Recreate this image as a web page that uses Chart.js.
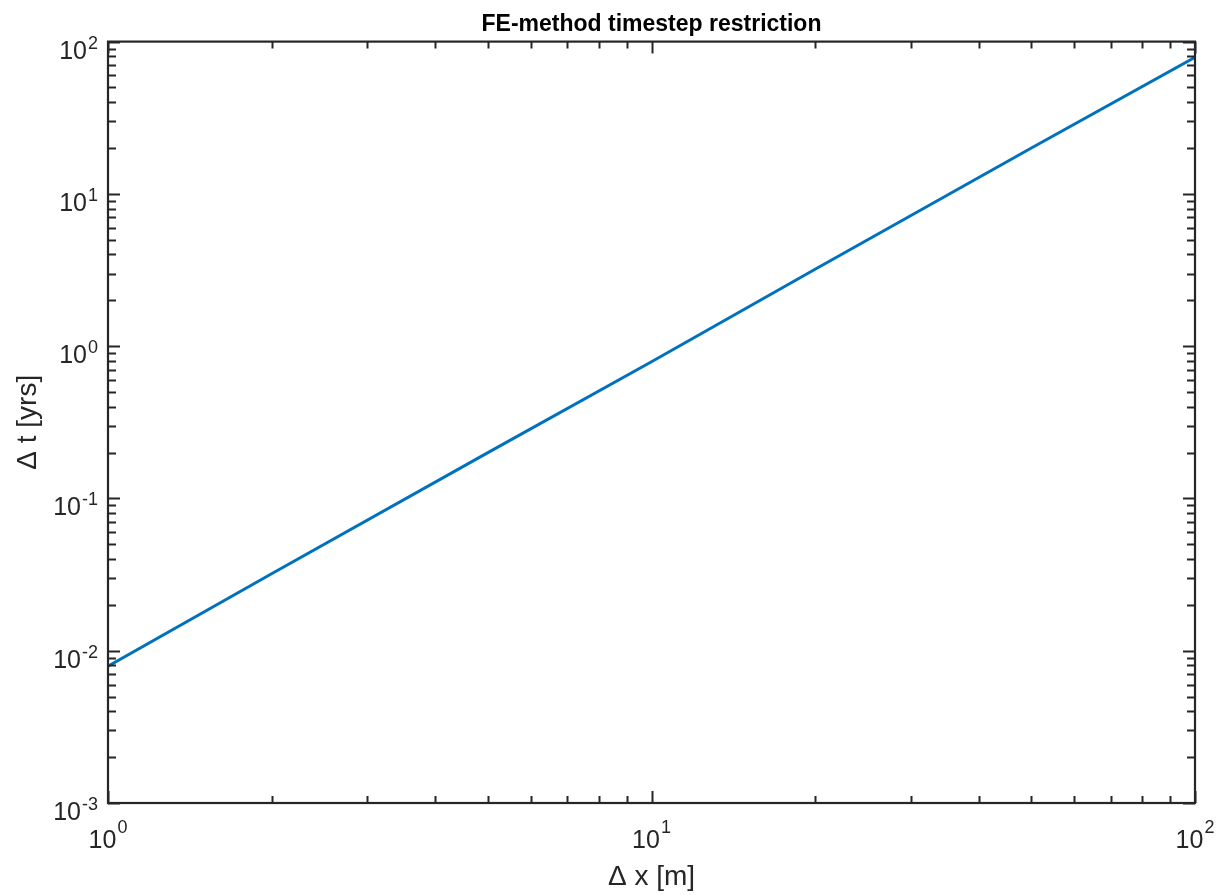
<!DOCTYPE html>
<html>
<head>
<meta charset="utf-8">
<script src="https://cdn.jsdelivr.net/npm/chart.js@4.4.1/dist/chart.umd.min.js"></script>
<style>
  html, body { margin: 0; padding: 0; background: #fff; }
  #wrap { width: 1222px; height: 895px; }
</style>
</head>
<body>
<div id="wrap"><canvas id="dtChart" width="1222" height="895"></canvas></div>
<script>
// grid spacing [m] vs. largest stable timestep [yrs]
const dx = [1, 2, 5, 10, 20, 50, 100];
const dt = [0.0079, 0.032, 0.2, 0.79, 3.2, 20, 79];

// decade ticks and their exponents
const xDecades = [1, 10, 100];
const xExponents = ['0', '1', '2'];
const yDecades = [0.001, 0.01, 0.1, 1, 10, 100];
const yExponents = ['-3', '-2', '-1', '0', '1', '2'];

const axisColor = '#262626';
const fontFamily = '"Liberation Sans", Arial, Helvetica, sans-serif';

// writes "10" with a raised exponent, left edge at x
function drawPower(ctx, exp, left, baseY, supY) {
    ctx.font = '25px ' + fontFamily;
    const wb = ctx.measureText('10').width;
    ctx.fillText('10', left, baseY);
    ctx.font = '18px ' + fontFamily;
    ctx.fillText(exp, left + wb + 1, supY);
}

function powerWidth(ctx, exp) {
    ctx.font = '25px ' + fontFamily;
    const wb = ctx.measureText('10').width;
    ctx.font = '18px ' + fontFamily;
    return wb + 1 + ctx.measureText(exp).width;
}

// box axes with inward ticks on all four sides, plus labels
const matlabAxes = {
    id: 'matlabAxes',
    afterDraw(chart) {
        const ctx = chart.ctx;
        const a = chart.chartArea;
        const x = chart.scales.x;
        const y = chart.scales.y;
        ctx.save();
        ctx.strokeStyle = axisColor;
        ctx.fillStyle = axisColor;
        ctx.lineWidth = 2;
        ctx.lineCap = 'butt';

        ctx.beginPath();
        const tickX = (v, len) => {
            const px = Math.round(x.getPixelForValue(v)) + 0.5;
            ctx.moveTo(px, a.bottom); ctx.lineTo(px, a.bottom - len);
            ctx.moveTo(px, a.top); ctx.lineTo(px, a.top + len);
        };
        const tickY = (v, len) => {
            const py = Math.round(y.getPixelForValue(v)) + 0.5;
            ctx.moveTo(a.left, py); ctx.lineTo(a.left + len, py);
            ctx.moveTo(a.right, py); ctx.lineTo(a.right - len, py);
        };
        xDecades.forEach((d, i) => {
            tickX(d, 12);
            if (i < xDecades.length - 1) {
                for (let k = 2; k <= 9; k++) tickX(d * k, 7);
            }
        });
        yDecades.forEach((d, i) => {
            tickY(d, 12);
            if (i < yDecades.length - 1) {
                for (let k = 2; k <= 9; k++) tickY(d * k, 8);
            }
        });
        ctx.stroke();

        ctx.lineWidth = 2.2;
        ctx.strokeRect(a.left, a.top, a.right - a.left, a.bottom - a.top);

        // tick labels
        ctx.textAlign = 'left';
        ctx.textBaseline = 'alphabetic';
        xDecades.forEach((d, i) => {
            const px = x.getPixelForValue(d);
            const w = powerWidth(ctx, xExponents[i]);
            drawPower(ctx, xExponents[i], px - w / 2, a.bottom + 45, a.bottom + 30);
        });
        yDecades.forEach((d, i) => {
            const py = y.getPixelForValue(d);
            const w = powerWidth(ctx, yExponents[i]);
            drawPower(ctx, yExponents[i], a.left - 10 - w, py + 17, py + 7);
        });

        // axis titles
        ctx.font = '28px ' + fontFamily;
        ctx.textAlign = 'center';
        ctx.fillText('\u0394 x [m]', (a.left + a.right) / 2, a.bottom + 82);
        ctx.translate(36, (a.top + a.bottom) / 2);
        ctx.rotate(-Math.PI / 2);
        ctx.fillText('\u0394 t [yrs]', 0, 0);
        ctx.restore();
    }
};

new Chart(document.getElementById('dtChart'), {
    type: 'line',
    data: {
        datasets: [{
            data: dx.map((v, i) => ({ x: v, y: dt[i] })),
            borderColor: '#0072BD',
            borderWidth: 3,
            pointRadius: 0,
            tension: 0,
            fill: false
        }]
    },
    options: {
        responsive: false,
        animation: false,
        devicePixelRatio: 1,
        layout: { padding: { top: 0, left: 108, right: 27, bottom: 92 } },
        plugins: {
            legend: { display: false },
            tooltip: { enabled: false },
            title: {
                display: true,
                text: 'FE-method timestep restriction',
                color: '#000',
                font: { family: fontFamily, size: 23, weight: 'bold' },
                padding: { top: 11, bottom: 3 }
            }
        },
        scales: {
            x: { type: 'logarithmic', min: 1, max: 100, display: false },
            y: { type: 'logarithmic', min: 0.001, max: 100, display: false }
        }
    },
    plugins: [matlabAxes]
});
</script>
</body>
</html>
